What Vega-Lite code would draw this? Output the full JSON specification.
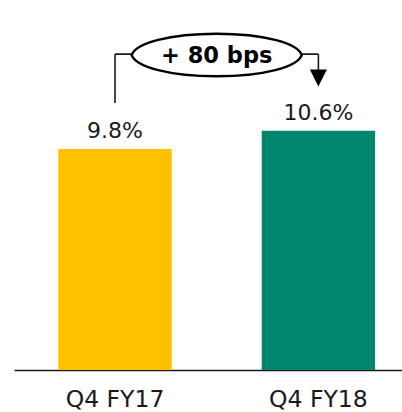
{
  "$schema": "https://vega.github.io/schema/vega-lite/v6.json",
  "width": 402,
  "height": 370,
  "autosize": {"type": "none"},
  "padding": {"top": 0, "left": 0, "right": 0, "bottom": 42},
  "background": "white",
  "config": {"view": {"stroke": null}, "font": "DejaVu Sans"},
  "layer": [
    {
      "data": {"values": [
        {"cat": "Q4 FY17", "value": 9.8, "label": "9.8%"},
        {"cat": "Q4 FY18", "value": 10.6, "label": "10.6%"}
      ]},
      "encoding": {
        "x": {
          "field": "cat", "type": "nominal", "sort": null,
          "scale": {"type": "band", "range": [14, 402], "paddingInner": 0.4425, "paddingOuter": 0.175, "align": 0.622},
          "axis": {"title": null, "domainColor": "#1a1a1a", "domainWidth": 1.6, "ticks": false, "tickSize": 0, "labelAngle": 0, "labelFont": "DejaVu Sans", "labelFontSize": 23.5, "labelColor": "#1a1a1a", "labelBaseline": "alphabetic", "labelPadding": 36, "grid": false}
        },
        "y": {"field": "value", "type": "quantitative", "scale": {"domain": [0, 16.4], "nice": false, "zero": true}, "axis": null}
      },
      "layer": [
        {"mark": {"type": "bar"}, "encoding": {"color": {"field": "cat", "type": "nominal", "scale": {"range": ["#FFC000", "#00866E"]}, "legend": null}}},
        {"mark": {"type": "text", "baseline": "alphabetic", "align": "center", "dy": -11, "fontSize": 22, "font": "DejaVu Sans", "color": "#1a1a1a"}, "encoding": {"text": {"field": "label"}}}
      ]
    },
    {
      "encoding": {
        "x": {"field": "p", "type": "quantitative", "scale": {"domain": [0, 1], "range": [115, 318.4]}, "axis": null},
        "y": {"field": "v", "type": "quantitative", "scale": {"domain": [0, 16.4], "nice": false, "zero": true}, "axis": null}
      },
      "layer": [
        {
          "data": {"values": [
            {"p": 0, "p2": 0, "v": 11.84, "v2": 14.0},
            {"p": 0, "p2": 1, "v": 14.0, "v2": 14.0},
            {"p": 1, "p2": 1, "v": 14.0, "v2": 13.3}
          ]},
          "mark": {"type": "rule", "color": "#1a1a1a", "strokeWidth": 1.6},
          "encoding": {"x2": {"field": "p2"}, "y2": {"field": "v2"}}
        },
        {
          "data": {"values": [{"p": 0.5, "v": 13.96}]},
          "mark": {"type": "point", "shape": "M -1 0 C -0.95 -0.14 -0.5523 -0.25 0 -0.25 C 0.5523 -0.25 0.95 -0.14 1 0 C 0.95 0.14 0.5523 0.25 0 0.25 C -0.5523 0.25 -0.95 0.14 -1 0 Z", "size": 28900, "filled": true, "fill": "white", "stroke": "black", "strokeWidth": 2.4, "opacity": 1, "fillOpacity": 1, "strokeOpacity": 1}
        },
        {
          "data": {"values": [{"p": 0.5, "v": 13.6, "t": "+ 80 bps"}]},
          "mark": {"type": "text", "baseline": "alphabetic", "align": "center", "fontSize": 22.5, "fontWeight": "bold", "font": "DejaVu Sans", "color": "black"},
          "encoding": {"text": {"field": "t"}}
        },
        {
          "data": {"values": [{"p": 1, "v": 12.94}]},
          "mark": {"type": "point", "shape": "M -1 -1 L 1 -1 L 0 1 Z", "size": 289, "filled": true, "color": "black", "opacity": 1}
        }
      ]
    }
  ],
  "resolve": {"scale": {"x": "independent"}}
}
